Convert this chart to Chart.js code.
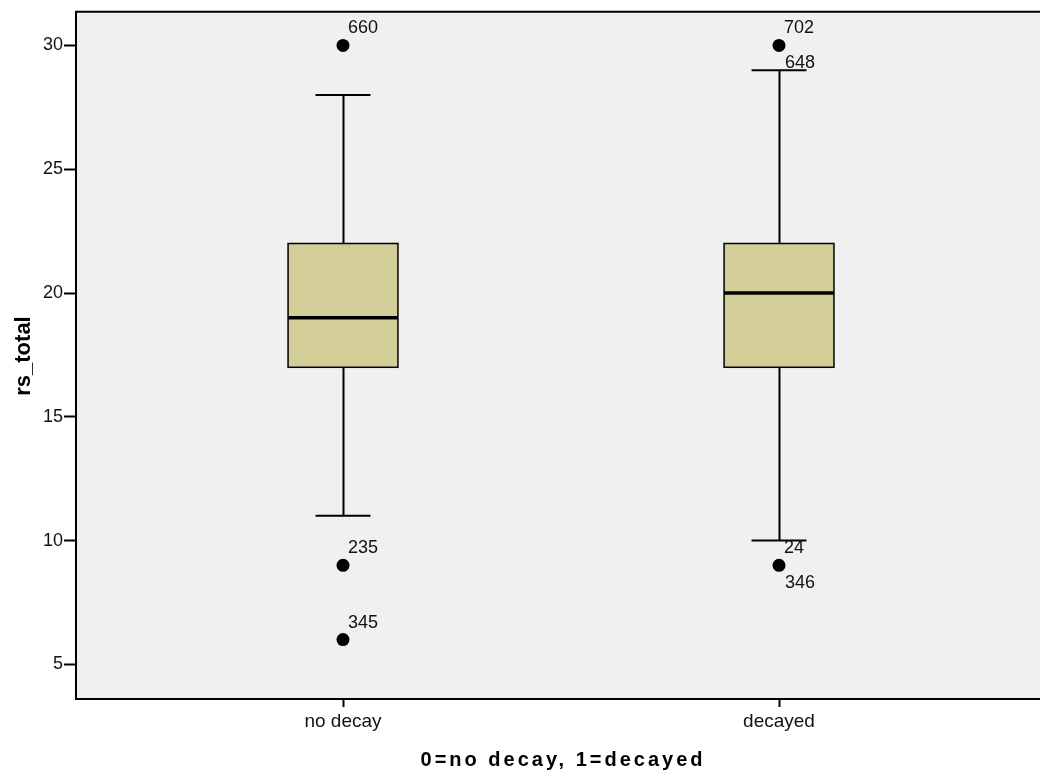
<!DOCTYPE html>
<html><head><meta charset="utf-8">
<script src="https://cdn.jsdelivr.net/npm/chart.js@4.4.1/dist/chart.umd.min.js"></script>
<style>html,body{margin:0;padding:0;background:#fff;overflow:hidden}</style>
</head><body>
<canvas id="c" width="1040" height="774" style="display:block;width:1040px;height:774px"></canvas>
<script>
// ---- data ----
const categories = ['no decay', 'decayed'];
const whiskerLow = [11, 10];
const q1 = [17, 17];
const median = [19, 20];
const q3 = [22, 22];
const whiskerHigh = [28, 29];
const outlierCategory = [0, 0, 0, 1, 1];
const outlierValue = [30, 9, 6, 30, 9];
const outlierLabelAbove = ['660', '235', '345', '702', '24'];
const outlierLabelBelow = ['', '', '', '648', '346'];
const yTicks = [5, 10, 15, 20, 25, 30];
const xTitle = '0=no decay, 1=decayed';
const yTitle = 'rs_total';

// ---- styles ----
const FONT = 'Arial, "Liberation Sans", sans-serif';
const BOX_HALF = 0.126;   // in x-axis units
const CAP_HALF = 0.063;
const BOX_FILL = '#D3CE98';

const boxPlugin = {
  id: 'spssBox',
  beforeDraw(chart) {
    const { ctx, chartArea: a } = chart;
    ctx.save();
    ctx.fillStyle = '#F0F0F0';
    ctx.fillRect(a.left, a.top, chart.width - a.left, a.bottom - a.top);
    ctx.restore();
  },
  beforeDatasetsDraw(chart) {
    const { ctx } = chart;
    const xs = chart.scales.x, ys = chart.scales.y;
    ctx.save();
    ctx.strokeStyle = '#000';
    for (let i = 0; i < categories.length; i++) {
      const cx = Math.round(xs.getPixelForValue(i)) + 0.5;
      const bl = xs.getPixelForValue(i - BOX_HALF), br = xs.getPixelForValue(i + BOX_HALF);
      const cl = xs.getPixelForValue(i - CAP_HALF), cr = xs.getPixelForValue(i + CAP_HALF);
      const yLo = ys.getPixelForValue(whiskerLow[i]);
      const yHi = ys.getPixelForValue(whiskerHigh[i]);
      const yQ1 = ys.getPixelForValue(q1[i]);
      const yQ3 = ys.getPixelForValue(q3[i]);
      const yMed = ys.getPixelForValue(median[i]);
      // whiskers
      ctx.lineWidth = 2;
      ctx.beginPath();
      ctx.moveTo(cx, yHi); ctx.lineTo(cx, yQ3);
      ctx.moveTo(cx, yQ1); ctx.lineTo(cx, yLo);
      ctx.moveTo(cl, yHi); ctx.lineTo(cr, yHi);
      ctx.moveTo(cl, yLo); ctx.lineTo(cr, yLo);
      ctx.stroke();
      // box
      ctx.fillStyle = BOX_FILL;
      ctx.fillRect(bl, yQ3, br - bl, yQ1 - yQ3);
      ctx.lineWidth = 1.5;
      ctx.strokeRect(bl, yQ3, br - bl, yQ1 - yQ3);
      // median
      ctx.lineWidth = 3.5;
      ctx.beginPath();
      ctx.moveTo(bl, yMed); ctx.lineTo(br, yMed);
      ctx.stroke();
    }
    ctx.restore();
  },
  afterDraw(chart) {
    const { ctx, chartArea: a } = chart;
    const xs = chart.scales.x, ys = chart.scales.y;
    ctx.save();
    // frame (left, top, bottom)
    ctx.strokeStyle = '#000';
    ctx.lineWidth = 2;
    ctx.beginPath();
    ctx.moveTo(chart.width + 2, a.top); ctx.lineTo(a.left, a.top);
    ctx.lineTo(a.left, a.bottom); ctx.lineTo(chart.width + 2, a.bottom);
    ctx.stroke();
    // outlier labels
    ctx.fillStyle = '#111';
    ctx.font = '18px ' + FONT;
    ctx.textAlign = 'left';
    ctx.textBaseline = 'alphabetic';
    for (let k = 0; k < outlierValue.length; k++) {
      const px = xs.getPixelForValue(outlierCategory[k]);
      const py = ys.getPixelForValue(outlierValue[k]);
      if (outlierLabelAbove[k]) ctx.fillText(outlierLabelAbove[k], px + 5, py - 12);
      if (outlierLabelBelow[k]) ctx.fillText(outlierLabelBelow[k], px + 6, py + 23);
    }
    // axis titles
    ctx.fillStyle = '#000';
    ctx.font = 'bold 20px ' + FONT;
    ctx.textAlign = 'center';
    ctx.textBaseline = 'middle';
    try { ctx.letterSpacing = '3px'; } catch (e) {}
    ctx.fillText(xTitle, 563, 760);
    try { ctx.letterSpacing = '0px'; } catch (e) {}
    ctx.translate(24, 356);
    ctx.rotate(-Math.PI / 2);
    ctx.font = 'bold 22px ' + FONT;
    ctx.fillText(yTitle, 0, 0);
    ctx.restore();
  }
};

const outlierPoints = outlierValue.map((v, k) => ({ x: outlierCategory[k], y: v }));

new Chart(document.getElementById('c'), {
  type: 'scatter',
  data: {
    datasets: [{
      label: 'outliers',
      data: outlierPoints,
      pointRadius: 6.5,
      pointHoverRadius: 6.5,
      pointBackgroundColor: '#000',
      pointBorderColor: '#000',
      pointBorderWidth: 0
    }]
  },
  options: {
    responsive: false,
    animation: false,
    events: [],
    layout: { autoPadding: false, padding: { top: 10, right: 0, left: 0, bottom: 0 } },
    plugins: { legend: { display: false }, tooltip: { enabled: false } },
    scales: {
      x: {
        type: 'linear',
        min: -0.6124,
        max: 1.5986,
        afterBuildTicks(scale) { scale.ticks = categories.map((c, i) => ({ value: i })); },
        afterFit(scale) { scale.height = 75; },
        ticks: {
          autoSkip: false,
          maxRotation: 0,
          padding: 3,
          color: '#111',
          font: { family: FONT, size: 19 }
        ,
          callback: (v) => categories[v]
        },
        grid: { drawOnChartArea: false, tickLength: 8, tickColor: '#000', tickWidth: 2 },
        border: { display: false }
      },
      y: {
        type: 'linear',
        min: 3.6,
        max: 31.36,
        afterBuildTicks(scale) { scale.ticks = yTicks.map(v => ({ value: v })); },
        afterFit(scale) { scale.width = 76; },
        ticks: {
          padding: 1,
          color: '#111',
          font: { family: FONT, size: 18 }
        },
        grid: { drawOnChartArea: false, tickLength: 12, tickColor: '#000', tickWidth: 2 },
        border: { display: false }
      }
    }
  },
  plugins: [boxPlugin]
});
</script>
</body></html>
